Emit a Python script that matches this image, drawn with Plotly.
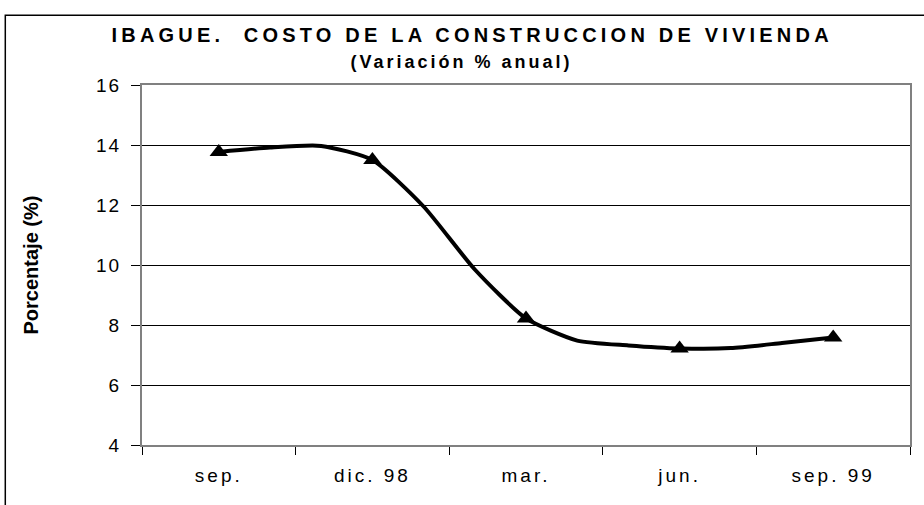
import plotly.graph_objects as go

# Datos: variación % anual, mensual de sep. 98 a sep. 99
meses = list(range(13))
valores = [13.77, 13.92, 13.97, 13.50, 11.95, 9.85, 8.22, 7.48, 7.32, 7.22, 7.23, 7.40, 7.58]
idx_marcas = [0, 3, 6, 9, 12]
etiquetas = ["sep.", "dic. 98", "mar.", "jun.", "sep. 99"]
pos_etiquetas = [0, 3, 6, 9, 12]
limites = [-1.5, 1.5, 4.5, 7.5, 10.5, 13.5]

fig = go.Figure()

fig.add_trace(go.Scatter(
    x=meses, y=valores,
    mode="lines",
    line=dict(color="black", width=4, shape="spline", smoothing=0.6),
    showlegend=False,
))
fig.add_trace(go.Scatter(
    x=[meses[i] for i in idx_marcas],
    y=[valores[i] for i in idx_marcas],
    mode="markers",
    marker=dict(symbol="triangle-up", size=16, color="black"),
    showlegend=False,
))

# marco exterior del gráfico
fig.add_shape(type="rect", xref="paper", yref="paper",
              x0=-0.178, x1=1.03, y0=-0.2, y1=1.194,
              line=dict(color="black", width=1.5), layer="below")

# segunda línea del título
fig.add_annotation(
    text="(Variación % anual)", xref="paper", yref="paper",
    x=0.4156, y=1.064, xanchor="center", yanchor="middle", showarrow=False,
    font=dict(size=18, weight="bold", color="black"),
)

fig.update_layout(
    width=924, height=505,
    margin=dict(l=142, r=12, t=85, b=60),
    paper_bgcolor="white",
    plot_bgcolor="white",
    font=dict(family="Liberation Sans, Arial, sans-serif", color="black"),
    title=dict(
        text="IBAGUE.  COSTO DE LA CONSTRUCCION DE VIVIENDA",
        x=0.511, xanchor="center", y=0.931, yanchor="middle",
        font=dict(size=20, weight="bold", color="black"),
    ),
)

fig.update_xaxes(
    range=[-1.5, 13.5],
    tickvals=pos_etiquetas, ticktext=etiquetas,
    ticks="", ticklabelstandoff=12,
    tickfont=dict(size=19),
    minor=dict(tickvals=limites, ticks="outside", ticklen=8, tickcolor="black", tickwidth=1),
    showgrid=False, zeroline=False,
    showline=True, linecolor="#808080", linewidth=2, mirror=True,
)

fig.update_yaxes(
    range=[4, 16], dtick=2,
    ticks="outside", ticklen=9, tickcolor="black", tickwidth=1,
    tickfont=dict(size=19), ticklabelstandoff=6,
    showgrid=True, gridcolor="black", gridwidth=1,
    zeroline=False,
    showline=True, linecolor="#808080", linewidth=2, mirror=True,
    title=dict(text="Porcentaje (%)", font=dict(size=20, weight="bold"), standoff=56),
)

estilo = """
var st = document.createElement('style');
st.textContent = 'body{margin:0} .gtitle{letter-spacing:4.2px} .annotation-text{letter-spacing:3px}'
  + ' .xtick text{letter-spacing:3px} .ytick text{letter-spacing:2px}';
document.head.appendChild(st);
"""

fig.write_html("out.html", post_script=estilo, config={"displayModeBar": False})
